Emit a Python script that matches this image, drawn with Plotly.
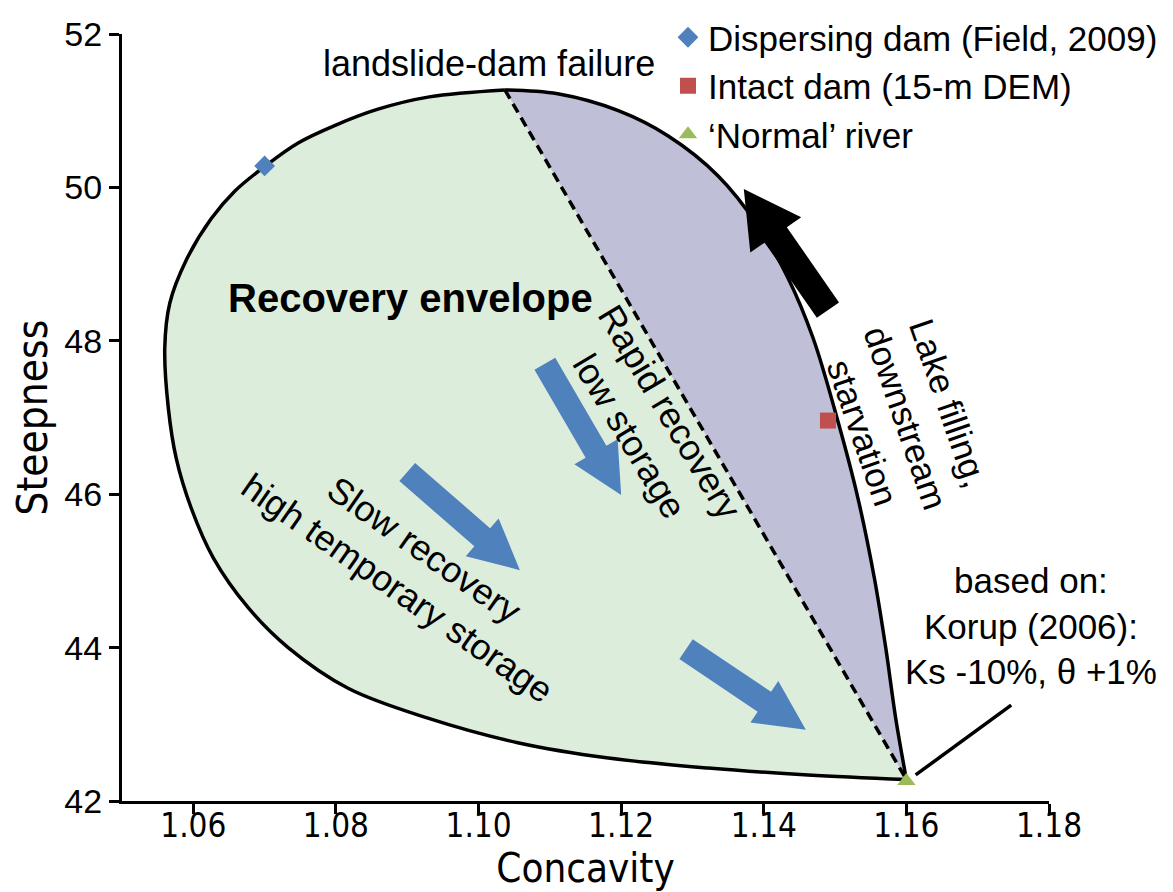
import plotly.graph_objects as go

# ---- data ----
# envelope: left/bottom branch from the 'normal river' apex round to the dam-failure top
left_x = [1.1600, 1.1462, 1.1322, 1.1182, 1.1055, 1.0929, 1.0817, 1.0733, 1.0677, 1.0628,
          1.0597, 1.0576, 1.0565, 1.0560, 1.0567, 1.0590, 1.0625, 1.0658, 1.0701, 1.0747,
          1.0799, 1.0859, 1.0931, 1.1037]
left_y = [42.28, 42.34, 42.43, 42.56, 42.76, 43.08, 43.47, 44.00, 44.52, 45.17,
          45.82, 46.47, 47.12, 47.91, 48.49, 49.05, 49.59, 49.95, 50.28, 50.58,
          50.81, 51.02, 51.18, 51.27]
# right branch from the top back down to the apex
right_x = [1.1037, 1.1111, 1.1196, 1.1266, 1.1336, 1.1392, 1.1434, 1.1469, 1.1504, 1.1532,
           1.1555, 1.1571, 1.1585, 1.1600]
right_y = [51.27, 51.22, 51.00, 50.67, 50.15, 49.50, 48.82, 48.04, 46.95, 45.95,
           44.91, 44.00, 43.08, 42.28]

# points
pt_names = ["Dispersing dam (Field, 2009)", "Intact dam (15-m DEM)", "\u2018Normal\u2019 river"]
pt_x = [1.070, 1.149, 1.160]
pt_y = [50.28, 46.96, 42.26]
pt_symbols = ["diamond", "square", "triangle-up"]
pt_colors = ["#4F81BD", "#C0504D", "#9BBB59"]

# arrows: (tail_x, tail_y, tip_x, tip_y)
blue_arrows = [
    (1.1093, 47.70, 1.1200, 45.99),
    (1.0900, 46.29, 1.1058, 45.01),
    (1.1291, 43.98, 1.1459, 42.93),
]
black_arrow = (1.1490, 48.40, 1.1372, 49.98)

# leader line for the 'based on' note
leader_x = [1.1613, 1.1747]
leader_y = [42.34, 43.25]

x_ticks = [1.06, 1.08, 1.10, 1.12, 1.14, 1.16, 1.18]
y_ticks = [42, 44, 46, 48, 50, 52]
x_range = [1.05, 1.18]
y_range = [42, 52]

# ---- layout geometry ----
W, H = 1173, 892
ML, MR, MT, MB = 114, 132, 26, 99
PW, PH = W - ML - MR, H - MT - MB
sx = PW / (x_range[1] - x_range[0])
sy = PH / (y_range[1] - y_range[0])

FONT = "Liberation Sans, Arial, sans-serif"
NARROW = "Liberation Sans Narrow, Arial Narrow, DejaVu Sans Condensed, Liberation Sans, sans-serif"


def arrow_path(a, shaft, head_w, head_l):
    x0, y0, x1, y1 = a
    p0 = ((x0 - x_range[0]) * sx, (y_range[1] - y0) * sy)
    p1 = ((x1 - x_range[0]) * sx, (y_range[1] - y1) * sy)
    dx, dy = p1[0] - p0[0], p1[1] - p0[1]
    L = (dx * dx + dy * dy) ** 0.5
    ux, uy = dx / L, dy / L
    nx, ny = -uy, ux
    bx, by = p1[0] - ux * head_l, p1[1] - uy * head_l
    pts = [
        (p0[0] + nx * shaft / 2, p0[1] + ny * shaft / 2),
        (bx + nx * shaft / 2, by + ny * shaft / 2),
        (bx + nx * head_w / 2, by + ny * head_w / 2),
        p1,
        (bx - nx * head_w / 2, by - ny * head_w / 2),
        (bx - nx * shaft / 2, by - ny * shaft / 2),
        (p0[0] - nx * shaft / 2, p0[1] - ny * shaft / 2),
    ]
    d = []
    for i, (px, py) in enumerate(pts):
        X = x_range[0] + px / sx
        Y = y_range[1] - py / sy
        d.append(("M" if i == 0 else "L") + f"{X:.6f},{Y:.5f}")
    return " ".join(d) + " Z"


fig = go.Figure()

fig.add_trace(go.Scatter(x=left_x, y=left_y, mode="lines", fill="toself",
                         fillcolor="rgb(221,237,220)", line=dict(width=0, shape="spline"),
                         hoverinfo="skip", showlegend=False))
fig.add_trace(go.Scatter(x=right_x, y=right_y, mode="lines", fill="toself",
                         fillcolor="rgb(192,191,216)", line=dict(width=0, shape="spline"),
                         hoverinfo="skip", showlegend=False))
fig.add_trace(go.Scatter(x=[left_x[-1], left_x[0]], y=[left_y[-1], left_y[0]], mode="lines",
                         line=dict(color="black", width=3.5, dash="10px,6px"),
                         hoverinfo="skip", showlegend=False))
fig.add_trace(go.Scatter(x=left_x, y=left_y, mode="lines",
                         line=dict(color="black", width=3.5, shape="spline"),
                         hoverinfo="skip", showlegend=False))
fig.add_trace(go.Scatter(x=right_x, y=right_y, mode="lines",
                         line=dict(color="black", width=3.5, shape="spline"),
                         hoverinfo="skip", showlegend=False))
fig.add_trace(go.Scatter(x=leader_x, y=leader_y, mode="lines",
                         line=dict(color="black", width=3.5),
                         hoverinfo="skip", showlegend=False, cliponaxis=False))

for n, x, y, s, c in zip(pt_names, pt_x, pt_y, pt_symbols, pt_colors):
    fig.add_trace(go.Scatter(x=[x], y=[y], mode="markers", name=n,
                             marker=dict(symbol=s, size=16, color=c, line=dict(width=0)),
                             cliponaxis=False))

shapes = []
for a in blue_arrows:
    shapes.append(dict(type="path", xref="x", yref="y", path=arrow_path(a, 24, 50, 50),
                       fillcolor="#4F81BD", line=dict(width=0), layer="above"))
shapes.append(dict(type="path", xref="x", yref="y", path=arrow_path(black_arrow, 27, 62, 56),
                   fillcolor="black", line=dict(width=0), layer="above"))

annotations = [
    dict(x=1.1015, y=51.62, text="landslide-dam failure", showarrow=False,
         font=dict(family=FONT, size=36, color="black")),
    dict(x=1.0904, y=48.56, text="<b>Recovery envelope</b>", showarrow=False,
         font=dict(family=FONT, size=40, color="black")),
    dict(x=1.1240, y=46.92, text="Rapid recovery<br>low storage", showarrow=False,
         textangle=59, font=dict(family=FONT, size=36, color="black")),
    dict(x=1.0905, y=45.03, text="Slow recovery<br>high temporary storage", showarrow=False,
         textangle=35, font=dict(family=FONT, size=36, color="black")),
    dict(x=1.1599, y=46.99, text="Lake filling,<br>downstream<br>starvation", showarrow=False,
         textangle=71, font=dict(family=FONT, size=35, color="black")),
    dict(x=1.1775, y=44.28, text="based on:<br>Korup (2006):<br>Ks -10%, \u03b8 +1%", showarrow=False,
         align="center", font=dict(family=FONT, size=35, color="black")),
]

fig.update_layout(
    width=W, height=H,
    margin=dict(l=ML, r=MR, t=MT, b=MB, pad=0, autoexpand=False),
    paper_bgcolor="white", plot_bgcolor="white",
    shapes=shapes, annotations=annotations,
    showlegend=True,
    legend=dict(xref="container", yref="container", x=660 / W, y=1,
                xanchor="left", yanchor="top",
                bgcolor="rgba(0,0,0,0)", borderwidth=0,
                font=dict(family=FONT, size=35, color="black"),
                itemclick=False, itemdoubleclick=False),
    xaxis=dict(range=x_range, tickvals=x_ticks, ticktext=[f"{v:.2f}" for v in x_ticks],
               automargin=False,
               showgrid=False, zeroline=False, showline=True, linecolor="black", linewidth=3,
               ticks="outside", ticklen=10, tickwidth=3, tickcolor="black",
               ticklabelstandoff=-17,
               tickfont=dict(family=NARROW, size=33, color="black"),
               title=dict(text="Concavity", standoff=0,
                          font=dict(family=NARROW, size=40, color="black"))),
    yaxis=dict(range=y_range, tickvals=y_ticks,
               automargin=False,
               showgrid=False, zeroline=False, showline=True, linecolor="black", linewidth=3,
               ticks="outside", ticklen=10, tickwidth=3, tickcolor="black",
               tickfont=dict(family=FONT, size=34, color="black"),
               title=dict(text="Steepness", standoff=8,
                          font=dict(family=NARROW, size=42, color="black"))),
)

fig.write_html("out.html")
